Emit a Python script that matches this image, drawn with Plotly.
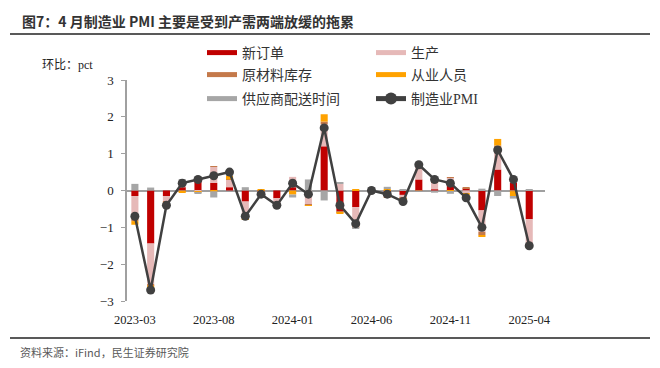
import plotly.graph_objects as go

months = ["2023-03","2023-04","2023-05","2023-06","2023-07","2023-08","2023-09","2023-10","2023-11","2023-12",
          "2024-01","2024-02","2024-03","2024-04","2024-05","2024-06","2024-07","2024-08","2024-09","2024-10",
          "2024-11","2024-12","2025-01","2025-02","2025-03","2025-04"]

new_orders = [-0.15,-1.44,-0.15,0.09,0.27,0.21,0.09,-0.30,-0.03,-0.21,
              0.09,0.00,1.20,-0.57,-0.45,-0.03,-0.06,-0.12,0.30,0.03,
              0.24,0.06,-0.54,0.57,0.21,-0.78]
production = [-0.53,-1.10,-0.15,0.18,-0.03,0.43,0.20,-0.45,-0.05,-0.13,
              0.28,-0.38,0.60,0.18,-0.53,-0.05,-0.13,-0.08,0.35,0.20,
              0.10,-0.08,-0.58,0.60,0.03,-0.70]
inventory = [-0.15,-0.04,-0.03,-0.02,0.08,0.02,0.01,-0.03,-0.02,-0.03,
             -0.01,-0.02,0.07,-0.03,-0.02,0.03,-0.01,-0.02,-0.01,0.05,
             0.01,0.02,-0.09,0.05,-0.02,-0.02]
employment = [-0.10,-0.18,-0.08,-0.04,-0.02,-0.02,0.10,-0.02,0.02,0.00,
              -0.10,-0.02,0.20,-0.02,0.02,0.00,0.04,-0.04,0.02,0.04,
              -0.04,-0.02,-0.04,0.18,-0.15,-0.06]
delivery = [0.18,0.08,-0.03,0.02,-0.02,-0.17,0.12,0.09,-0.02,0.00,
            -0.08,0.30,-0.27,0.03,-0.02,0.06,0.06,0.02,0.00,-0.06,
            -0.05,0.00,0.05,-0.15,-0.05,0.02]
pmi_change = [-0.7,-2.7,-0.4,0.2,0.3,0.4,0.5,-0.7,-0.1,-0.4,
              0.2,-0.1,1.7,-0.4,-0.9,0.0,-0.1,-0.3,0.7,0.3,
              0.2,-0.2,-1.0,1.1,0.3,-1.5]

tick_months = ["2023-03","2023-08","2024-01","2024-06","2024-11","2025-04"]
y_ticks = [-3,-2,-1,0,1,2,3]

series = [
    ("新订单", new_orders, "#C00000", "legend"),
    ("生产", production, "#E6B9B8", "legend"),
    ("原材料库存", inventory, "#C4794A", "legend2"),
    ("从业人员", employment, "#FFA200", "legend2"),
    ("供应商配送时间", delivery, "#A6A6A6", "legend3"),
]

fig = go.Figure()
for name, vals, col, lg in series:
    fig.add_trace(go.Bar(x=months, y=vals, name=name, marker_color=col,
                         marker_line_width=0, showlegend=False))
# legend entries with wide swatches
for name, vals, col, lg in series:
    fig.add_trace(go.Scatter(x=[None], y=[None], mode="lines", name=name,
                             line=dict(color=col, width=8), legend=lg, hoverinfo="skip"))
fig.add_trace(go.Scatter(x=months, y=pmi_change, mode="lines+markers", name="制造业PMI",
                         line=dict(color="#404040", width=2.5),
                         marker=dict(color="#404040", size=9), legend="legend3"))

serif = "Liberation Serif, Noto Sans CJK SC"
OFF = 8                      # page body margin
W, H = 660 - OFF, 368 - OFF  # figure size so it fits the window
L, R, T, B = 127 - OFF, 545 - OFF, 80 - OFF, 301 - OFF
PW, PH = R - L, B - T


def px(xp):
    return (xp - OFF - L) / PW


def py(yp):
    return (B - (yp - OFF)) / PH


leg_common = dict(orientation="h", xanchor="left", yanchor="middle", x=px(202),
                  entrywidth=124, entrywidthmode="pixels", bgcolor="rgba(0,0,0,0)",
                  font=dict(family=serif, size=14, color="#333333"),
                  itemsizing="constant", tracegroupgap=0)

fig.update_layout(
    width=W, height=H,
    margin=dict(l=L, r=W - R, t=T, b=H - B, autoexpand=False),
    paper_bgcolor="white", plot_bgcolor="white",
    barmode="relative", bargap=0.55,
    legend=dict(y=py(53), **leg_common),
    legend2=dict(y=py(75), **leg_common),
    legend3=dict(y=py(99), **leg_common),
    xaxis=dict(type="category", range=[-0.5, 26], tickmode="array",
               tickvals=tick_months, ticktext=tick_months, showline=False,
               showgrid=False, ticks="", ticklabelstandoff=9,
               tickfont=dict(family=serif, size=12.5, color="#222222")),
    yaxis=dict(range=[-3, 3], tickvals=y_ticks, showgrid=False, zeroline=True,
               zerolinecolor="#A0A0A0", zerolinewidth=1.5,
               showline=True, linecolor="#A0A0A0", linewidth=1.5,
               ticks="outside", ticklen=4, tickcolor="#A0A0A0", ticklabelstandoff=5,
               tickfont=dict(family=serif, size=13, color="#222222")),
    font=dict(family=serif),
    shapes=[
        dict(type="line", xref="paper", yref="paper", x0=px(10), x1=px(650),
             y0=py(34), y1=py(34), line=dict(color="#595959", width=2)),
        dict(type="line", xref="paper", yref="paper", x0=px(10), x1=px(650),
             y0=py(338), y1=py(338), line=dict(color="#595959", width=2)),
    ],
    annotations=[
        dict(text="<b>图7：4 月制造业 PMI 主要是受到产需两端放缓的拖累</b>", xref="paper", yref="paper",
             x=px(20), y=py(21), xanchor="left", yanchor="middle", showarrow=False,
             font=dict(family="Noto Sans CJK SC", size=14, color="#333333")),
        dict(text="环比：pct", xref="paper", yref="paper",
             x=px(40), y=py(65), xanchor="left", yanchor="middle", showarrow=False,
             font=dict(family=serif, size=12, color="#222222")),
        dict(text="资料来源：iFind，民生证券研究院", xref="paper", yref="paper",
             x=px(18), y=py(352), xanchor="left", yanchor="middle", showarrow=False,
             font=dict(family="Noto Sans CJK SC", size=11, color="#595959")),
    ],
)

fig.write_html("out.html")
